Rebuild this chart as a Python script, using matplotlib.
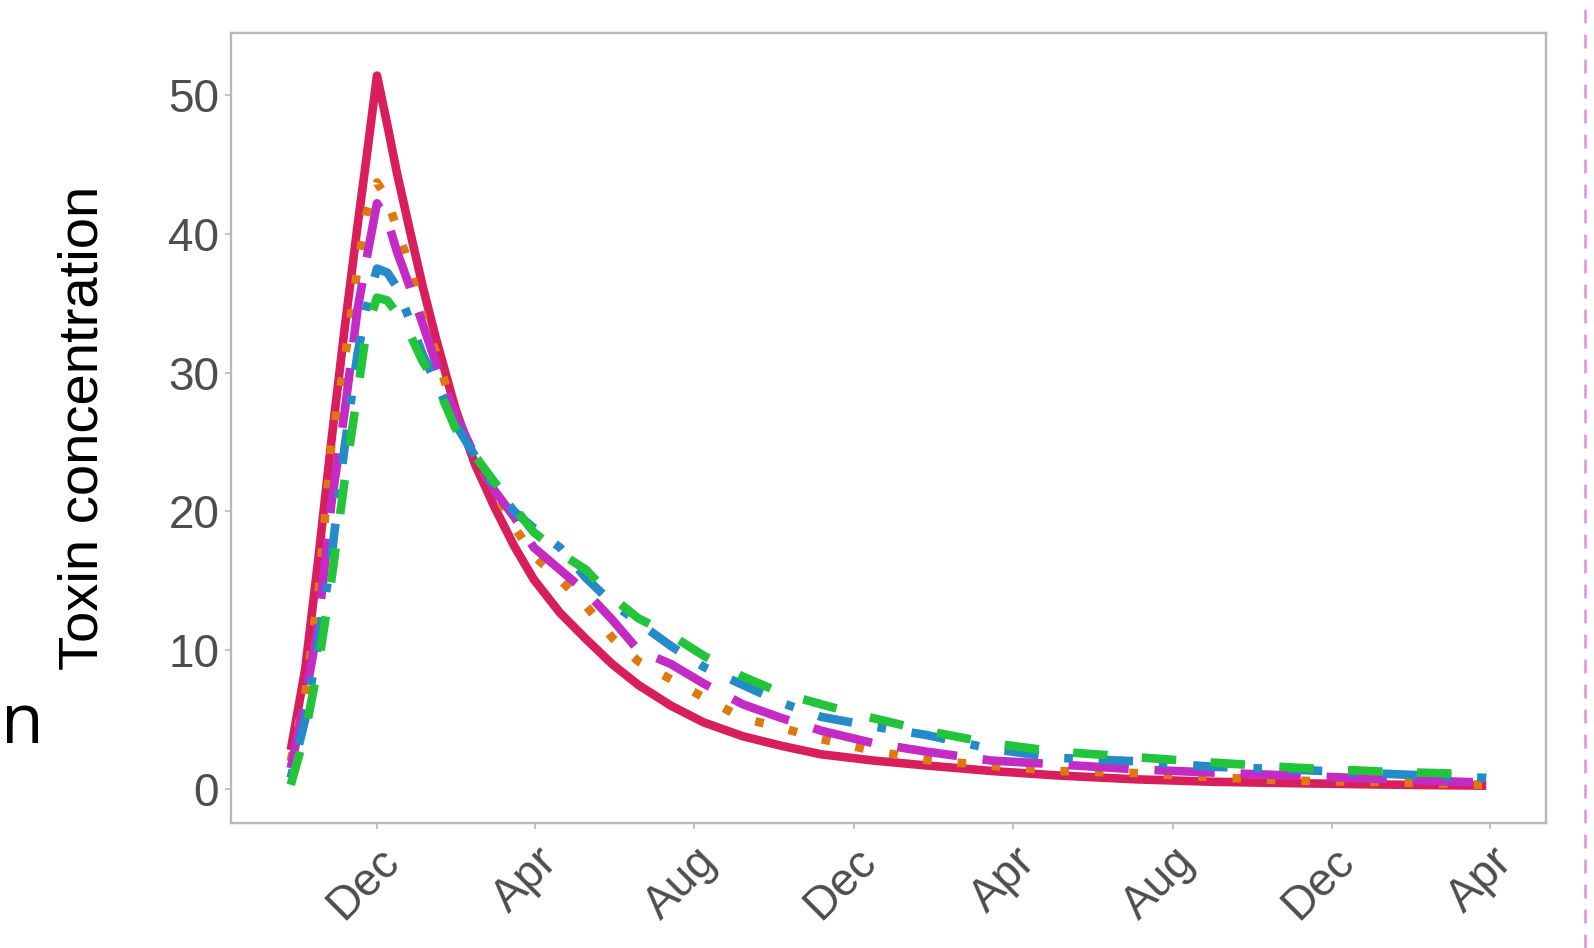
import matplotlib
matplotlib.use("Agg")
import matplotlib.pyplot as plt
import matplotlib.dates as mdates
from matplotlib.lines import Line2D
import pandas as pd

plt.rcParams["font.family"] = ["Liberation Sans", "DejaVu Sans"]

# 관측일: 12월 1일 기준 경과일
start_date = "2018-12-01"
days = [-66, -55, -45, -35, -25, -15, -8, 0, 8, 15, 25, 35, 45, 60, 75, 90,
        105, 120, 140, 160, 180, 200, 225, 250, 280, 310, 340, 380, 420, 470,
        520, 580, 640, 700, 770, 849]

red = [2.8, 8.6, 16.5, 25.0, 33.0, 40.5, 45.5, 51.4, 47.8, 44.5, 40.3, 36.2,
       32.5, 27.4, 23.4, 20.3, 17.5, 15.1, 12.7, 10.8, 9.0, 7.5, 6.0, 4.8,
       3.8, 3.1, 2.5, 2.05, 1.7, 1.3, 0.98, 0.7, 0.52, 0.42, 0.32, 0.24]
orange = [2.0, 6.8, 14.0, 24.7, 30.7, 37.5, 41.5, 43.7, 42.5, 40.4, 37.7, 34.0,
          31.5, 26.8, 24.0, 21.4, 18.9, 16.8, 15.1, 13.2, 10.9, 9.2, 7.9, 6.6,
          5.1, 4.4, 3.6, 2.75, 2.1, 1.68, 1.3, 1.15, 0.85, 0.6, 0.5, 0.3]
magenta = [1.5, 6.5, 11.8, 20.5, 27.0, 34.5, 38.2, 42.2, 41.0, 38.8, 36.2, 33.5,
           30.7, 27.0, 24.0, 21.5, 19.6, 17.4, 15.8, 14.2, 12.2, 10.0, 9.0, 7.6,
           6.1, 5.1, 4.2, 3.3, 2.7, 2.05, 1.78, 1.42, 1.18, 0.97, 0.72, 0.45]
blue = [0.8, 5.0, 10.5, 16.6, 24.5, 31.3, 34.7, 37.5, 37.2, 36.2, 33.8, 31.3,
        29.3, 26.3, 24.0, 21.8, 20.0, 18.8, 17.4, 15.2, 13.4, 12.0, 10.3, 8.8,
        7.5, 6.2, 5.2, 4.5, 3.9, 2.9, 2.25, 2.0, 1.6, 1.4, 1.1, 0.8]
green = [0.3, 4.0, 8.9, 15.0, 22.1, 28.5, 33.1, 35.4, 35.2, 34.3, 32.8, 30.8,
         29.3, 26.0, 24.0, 22.1, 20.3, 18.5, 17.0, 15.8, 13.8, 12.3, 11.1, 9.6,
         8.1, 6.9, 6.1, 5.1, 4.2, 3.3, 2.7, 2.3, 1.9, 1.55, 1.25, 1.05]

series = [
    (red, "#D81E5B", "-"),
    (orange, "#E07810", (0, (1, 3))),
    (magenta, "#C42BC4", (0, (7, 3))),
    (blue, "#238BC7", (0, (1, 3, 4, 3))),
    (green, "#22C43A", (0, (4, 4))),
]

dates = pd.Timestamp(start_date) + pd.to_timedelta(days, unit="D")

fig = plt.figure(figsize=(15.94, 9.48), dpi=100)
ax = fig.add_axes([231 / 1594, 1 - 823 / 948, 1315 / 1594, 790 / 948])

for vals, color, ls in series:
    ax.plot(dates, vals, color=color, linestyle=ls, linewidth=6.2,
            solid_capstyle="butt", dash_capstyle="butt", solid_joinstyle="round")

ax.set_ylim(-2.45, 54.47)
ax.set_yticks([0, 10, 20, 30, 40, 50])
ax.xaxis.set_major_locator(mdates.MonthLocator(bymonth=[4, 8, 12]))
ax.xaxis.set_major_formatter(mdates.DateFormatter("%b"))

for side in ax.spines.values():
    side.set_color("#B8B8B8")
    side.set_linewidth(1.7)
ax.tick_params(colors="#B8B8B8", width=1.2, length=4.5, labelcolor="#4D4D4D",
               labelsize=33, pad=4)
ax.tick_params(axis="x", pad=7)
for lab in ax.get_xticklabels():
    lab.set_rotation(45)
    lab.set_ha("right")
    lab.set_va("top")
    lab.set_rotation_mode("anchor")

ax.set_ylabel("Toxin concentration", fontsize=40.5, color="black", labelpad=42)

# 왼쪽 잘린 글자와 오른쪽 점선 (원본 슬라이드 잔재)
fig.text(1 / 1594, 1 - 743 / 948, "n", fontsize=50, ha="left",
         va="baseline", color="black", family=["Open Sans", "DejaVu Sans"])
fig.add_artist(Line2D([1585 / 1594, 1585 / 1594], [0, 1], transform=fig.transFigure,
                      color="#E59AE3", linewidth=2, linestyle=(0, (5, 4))))

fig.savefig("out.png", dpi=100)
